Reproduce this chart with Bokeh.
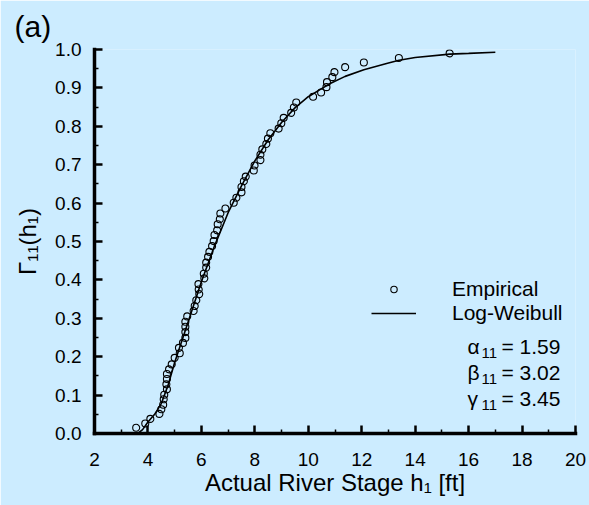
import math
from bokeh.plotting import figure
from bokeh.models import Range1d, FixedTicker, Label, Legend, LegendItem
from bokeh.embed import file_html
from bokeh.resources import INLINE

# ---------------- data ----------------
emp_h = [3.56, 3.90, 4.09, 4.43, 4.50, 4.57, 4.59, 4.61, 4.71, 4.69,
         4.71, 4.71, 4.79, 4.89, 5.00, 5.19, 5.16, 5.31, 5.40, 5.40,
         5.40, 5.40, 5.47, 5.71, 5.75, 5.81, 5.92, 5.90, 5.89, 6.11,
         6.09, 6.18, 6.18, 6.25, 6.30, 6.40, 6.46, 6.49, 6.59, 6.61,
         6.69, 6.71, 6.90, 7.21, 7.31, 7.50, 7.50, 7.59, 7.66, 7.96,
         7.99, 8.21, 8.21, 8.28, 8.43, 8.49, 8.58, 8.89, 8.99, 9.08,
         9.36, 9.46, 9.55, 10.18, 10.48, 10.68, 10.70, 10.90, 10.98, 11.38,
         12.08, 13.39, 15.29]
emp_F = [0.015, 0.026, 0.038, 0.051, 0.063, 0.075, 0.089, 0.101, 0.115, 0.128,
         0.142, 0.155, 0.167, 0.180, 0.197, 0.209, 0.223, 0.236, 0.249, 0.264,
         0.278, 0.291, 0.305, 0.319, 0.332, 0.347, 0.363, 0.375, 0.389, 0.404,
         0.416, 0.432, 0.445, 0.460, 0.473, 0.488, 0.501, 0.517, 0.529, 0.545,
         0.558, 0.573, 0.586, 0.601, 0.614, 0.628, 0.642, 0.657, 0.669, 0.685,
         0.698, 0.712, 0.726, 0.740, 0.754, 0.768, 0.782, 0.794, 0.808, 0.822,
         0.835, 0.849, 0.862, 0.877, 0.888, 0.902, 0.915, 0.928, 0.941, 0.954,
         0.966, 0.978, 0.990]

fit_h = [3.62, 3.80, 4.00, 4.25, 4.50, 4.75, 5.00, 5.50, 6.00, 6.50,
         7.00, 7.50, 8.00, 8.50, 9.00, 9.50, 10.00, 10.50, 10.84, 11.38,
         12.08, 13.00, 13.40, 14.00, 15.30, 16.00, 17.00]
fit_F = [0.000, 0.010, 0.030, 0.050, 0.078, 0.125, 0.185, 0.290, 0.395, 0.490,
         0.575, 0.645, 0.710, 0.765, 0.810, 0.848, 0.877, 0.898, 0.912, 0.930,
         0.947, 0.965, 0.972, 0.979, 0.988, 0.990, 0.993]

x_ticks = [2, 4, 6, 8, 10, 12, 14, 16, 18, 20]
x_tick_labels = ["2", "4", "6", "8", "10", "12", "14", "16", "18", "20"]
x_minor = [3, 5, 7, 9, 11, 13, 15, 17, 19]
y_ticks = [0.0, 0.1, 0.2, 0.3, 0.4, 0.5, 0.6, 0.7, 0.8, 0.9, 1.0]
y_tick_labels = ["0.0", "0.1", "0.2", "0.3", "0.4", "0.5", "0.6", "0.7", "0.8", "0.9", "1.0"]
y_minor = [0.05, 0.15, 0.25, 0.35, 0.45, 0.55, 0.65, 0.75, 0.85, 0.95]

param_names = ["\u03b1", "\u03b2", "\u03b3"]
param_sub = ["11", "11", "11"]
param_vals = ["= 1.59", "= 3.02", "= 3.45"]

series_names = ["Empirical", "Log-Weibull"]
panel_tag = "(a)"
x_title = "Actual River Stage h\u2081 [ft]"
y_title = "\u0393\u2081\u2081(h\u2081)"

# ---------------- layout ----------------
BG = "#CCECFF"
FONT = "Liberation Sans"
W, H = 589, 505
FL, FR, FT, FB = 94, 575, 48, 433   # frame edges in page pixels
XMIN, XMAX, YMIN, YMAX = 2, 20, 0, 1.0


def dx(px):
    return XMIN + (px - FL) * (XMAX - XMIN) / (FR - FL)


def dy(py):
    return YMIN + (FB - py) * (YMAX - YMIN) / (FB - FT)


p = figure(width=W, height=H, output_backend="svg", toolbar_location=None,
           x_range=Range1d(XMIN, XMAX), y_range=Range1d(YMIN, YMAX),
           min_border_left=FL, min_border_right=W - FR,
           min_border_top=FT, min_border_bottom=H - FB)
p.background_fill_color = BG
p.border_fill_color = BG
p.outline_line_color = None
p.grid.visible = False

p.title.text = panel_tag
p.title.text_font = FONT
p.title.text_font_size = "30px"
p.title.text_font_style = "normal"
p.title.text_color = "black"
p.title.align = "left"
p.title.offset = 14 - FL
p.title.standoff = 14

for ax in (p.xaxis, p.yaxis):
    ax.axis_line_width = 3.5
    ax.axis_line_color = "black"
    ax.axis_line_cap = "square"
    ax.major_tick_in = 8
    ax.major_tick_out = 0
    ax.minor_tick_in = 4
    ax.minor_tick_out = 0
    ax.major_tick_line_width = 2.5
    ax.minor_tick_line_width = 1.5
    ax.major_tick_line_color = "black"
    ax.minor_tick_line_color = "black"
    ax.major_label_text_font = FONT
    ax.major_label_text_font_size = "19px"
    ax.major_label_text_color = "black"
    ax.axis_label_text_font = FONT
    ax.axis_label_text_font_style = "normal"
    ax.axis_label_text_color = "black"

p.xaxis.ticker = FixedTicker(ticks=x_ticks, minor_ticks=x_minor)
p.xaxis.major_label_overrides = dict(zip(x_ticks, x_tick_labels))
p.xaxis.major_label_standoff = 19
p.xaxis.axis_label = x_title
p.xaxis.axis_label_text_font_size = "24px"
p.xaxis.axis_label_standoff = 0

p.yaxis.ticker = FixedTicker(ticks=y_ticks, minor_ticks=y_minor)
p.yaxis.major_label_overrides = dict(zip(y_ticks, y_tick_labels))
p.yaxis.major_label_standoff = 13
p.yaxis.axis_label = y_title
p.yaxis.axis_label_text_font_size = "24px"
p.yaxis.axis_label_standoff = 11

# fitted curve and empirical points
r_fit = p.line(fit_h, fit_F, line_color="black", line_width=1.6)
r_emp = p.scatter(emp_h, emp_F, marker="circle", size=7, fill_color=None,
                  line_color="black", line_width=1.1)

legend = Legend(items=[LegendItem(label=series_names[0], renderers=[r_emp]),
                       LegendItem(label=series_names[1], renderers=[r_fit])],
                location=(371 - FL, FB - 325),
                background_fill_alpha=0, border_line_color=None,
                label_text_font=FONT, label_text_font_size="21px",
                label_text_color="black",
                glyph_width=45, glyph_height=16, label_height=24,
                label_standoff=36, spacing=0, padding=0, margin=0)
p.add_layout(legend, "center")


def lab(px, py, text, size):
    p.add_layout(Label(x=dx(px), y=dy(py), text=text, text_font=FONT,
                       text_font_size=size, text_color="black",
                       text_align="left", text_baseline="alphabetic"))


# parameter lines
base_y = [346, 372, 398]
for name, sub, val, by in zip(param_names, param_sub, param_vals, base_y):
    lab(467, by, name, "21px")
    lab(481, by + 6, sub, "15px")
    lab(501, by, val, "21px")

open("out.html", "w").write(file_html(p, INLINE))
